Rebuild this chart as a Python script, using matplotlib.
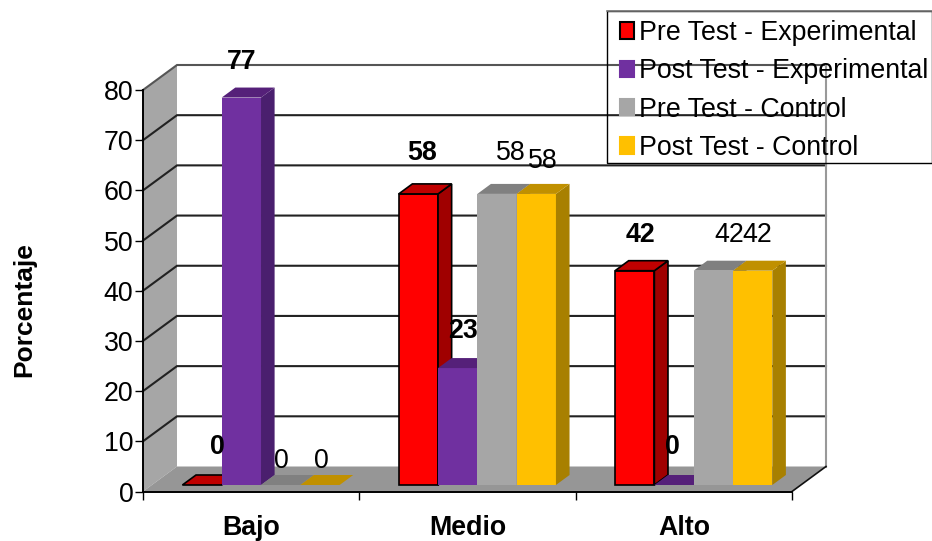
import matplotlib
matplotlib.use('Agg')
import matplotlib.pyplot as plt
from matplotlib.lines import Line2D
from matplotlib.patches import Patch, Polygon, Rectangle

plt.rcParams['font.family'] = ['Liberation Sans', 'DejaVu Sans']

## Chart data
categories = ['Bajo', 'Medio', 'Alto']
pre_experimental = [0, 58, 42.7]
post_experimental = [77.2, 23.3, 0]
pre_control = [0, 58, 42.7]
post_control = [0, 58, 42.7]
y_ticks = [0, 10, 20, 30, 40, 50, 60, 70, 80]
series_names = ['Pre Test - Experimental', 'Post Test - Experimental',
                'Pre Test - Control', 'Post Test - Control']
y_title = 'Porcentaje'

all_series = [pre_experimental, post_experimental, pre_control, post_control]

## Styles: front, top, side colours, border
front_cols = ['#FF0000', '#7030A0', '#A6A6A6', '#FFC000']
top_cols = ['#C00000', '#552079', '#808080', '#C09000']
side_cols = ['#A00000', '#4A1F6E', '#8C8C8C', '#A88000']
edge_cols = ['black', 'none', 'none', 'none']
bold_series = [True, True, False, False]

## Label offsets in pixels from bar front-top centre, per series and category
label_off = [[(15, 38), (4, 41), (6, 36)],
             [(0, 36), (5, 37), (-2, 38)],
             [(1, 24), (14, 41), (16, 36)],
             [(1, 24), (7, 33), (5, 36)]]

W, H = 932, 541
fig = plt.figure(figsize=(W / 100, H / 100), dpi=100)
ax = fig.add_axes([143 / W, (H - 491.5) / H, 649 / W, 401.5 / H])
ax.set_xlim(0, 3)
ax.set_ylim(0, 80)
ax.patch.set_visible(False)

## depth 1 = back wall
px_x = 649 / 3
px_y = 401.5 / 80
dx = 34 / px_x
dy = 25 / px_y


def proj(x, y, d):
    return (x + d * dx, y + d * dy)


def poly(pts, col, edge='none', z=2, lw=1.2):
    ax.add_patch(Polygon(pts, closed=True, facecolor=col, edgecolor=edge, lw=lw,
                         zorder=z, clip_on=False, joinstyle='miter'))


## Walls and floor
poly([proj(0, 0, 0), proj(0, 80, 0), proj(0, 80, 1), proj(0, 0, 1)], '#A6A6A6', z=1)
poly([proj(0, 0, 0), proj(3, 0, 0), proj(3, 0, 1), proj(0, 0, 1)], '#969696', z=1)

for t in y_ticks[1:]:
    a, b, c = proj(0, t, 0), proj(0, t, 1), proj(3, t, 1)
    col = '#555555' if t == 80 else '#222222'
    ax.plot([a[0], b[0], c[0]], [a[1], b[1], c[1]], color=col, lw=1.5, zorder=1.5,
            clip_on=False, solid_joinstyle='miter')
a, b = proj(3, 0, 1), proj(3, 80, 1)
ax.plot([a[0], b[0]], [a[1], b[1]], color='#999999', lw=1.5, zorder=1.5, clip_on=False)
a, b = proj(3, 0, 0), proj(3, 0, 1)
ax.plot([a[0], b[0]], [a[1], b[1]], color='#111111', lw=1.2, zorder=1.6, clip_on=False)

## Bars, drawn left to right so later ones sit on top
bar_w = 39.3 / px_x
shift = 1 / px_x
d0, d1 = 0.26, 0.66
z = 3
for c in range(len(categories)):
    for s, vals in enumerate(all_series):
        v = vals[c]
        x0 = c + 0.5 + shift + (s - 2) * bar_w
        x1 = x0 + bar_w
        edge = edge_cols[s]
        if v > 0:
            poly([proj(x0, 0, d0), proj(x1, 0, d0), proj(x1, v, d0), proj(x0, v, d0)],
                 front_cols[s], edge, z)
            poly([proj(x1, 0, d0), proj(x1, 0, d1), proj(x1, v, d1), proj(x1, v, d0)],
                 side_cols[s], edge, z)
        poly([proj(x0, v, d0), proj(x1, v, d0), proj(x1, v, d1), proj(x0, v, d1)],
             top_cols[s], edge, z)
        z += 0.01

## Value labels
for s, vals in enumerate(all_series):
    for c, v in enumerate(vals):
        x0 = c + 0.5 + shift + (s - 2) * bar_w
        ax.annotate(str(int(v)), proj(x0 + bar_w / 2, v, d0), xytext=label_off[s][c],
                    textcoords='offset pixels', ha='center', va='center', fontsize=19.3,
                    fontweight='bold' if bold_series[s] else 'normal', zorder=10,
                    annotation_clip=False)

## Axes
for side in ['top', 'right']:
    ax.spines[side].set_visible(False)
for side in ['left', 'bottom']:
    ax.spines[side].set_linewidth(1.4)
    ax.spines[side].set_zorder(2)
ax.set_yticks(y_ticks)
ax.set_yticklabels([str(t) for t in y_ticks])
ax.set_xticks(range(len(categories) + 1))
ax.set_xticklabels([])
ax.set_xticks([i + 0.5 for i in range(len(categories))], minor=True)
ax.set_xticklabels(categories, minor=True, fontsize=19.3, fontweight='bold')
ax.tick_params(axis='x', which='minor', length=0, pad=17)
ax.tick_params(axis='x', which='major', length=6, width=1)
ax.tick_params(axis='y', length=6, width=1, labelsize=19.3, pad=1)
fig.text(24 / W, (H - 310) / H, y_title, rotation=90, ha='center', va='center',
         fontsize=19, fontweight='bold')

## Legend box, runs off the right edge; see-through like the original
fig.add_artist(Rectangle((606.5 / W, (H - 163) / H), 1 - 606.5 / W, 152 / H,
                         transform=fig.transFigure, facecolor='none',
                         edgecolor='black', lw=1, clip_on=False))
fig.add_artist(Line2D([606.5 / W, 1], [(H - 11) / H, (H - 11) / H],
                      transform=fig.transFigure, color='#777777', lw=1.2))
handles = [Patch(facecolor=front_cols[i], edgecolor=edge_cols[i] if i == 0 else front_cols[i],
                 lw=1.5) for i in range(4)]
leg = fig.legend(handles, series_names, loc='upper left',
                 bbox_to_anchor=(619.5 / W, (H - 20) / H), frameon=False, fontsize=19.3,
                 borderpad=0, borderaxespad=0, handlelength=0.55, handleheight=0.55,
                 handletextpad=0.17, labelspacing=0.46)

fig.savefig('out.png', dpi=100)
